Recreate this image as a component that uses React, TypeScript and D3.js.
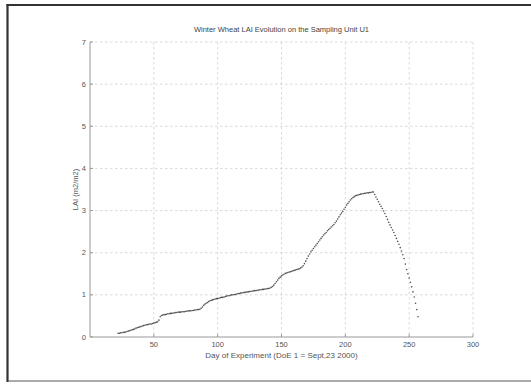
import * as d3 from 'd3';

const title = 'Winter Wheat LAI Evolution on the Sampling Unit U1';
const xLabel = 'Day of Experiment (DoE 1 = Sept,23 2000)';
const yLabel = 'LAI (m2/m2)';
const xTicks = [50, 100, 150, 200, 250, 300];
const yTicks = [0, 1, 2, 3, 4, 5, 6, 7];

// first sampled day, then one LAI reading per day
const firstDay = 22;
const lai = [
  0.09, 0.09, 0.10, 0.10, 0.11, 0.11, 0.12, 0.13, 0.14, 0.15,
  0.16, 0.17, 0.18, 0.19, 0.21, 0.22, 0.23, 0.24, 0.25, 0.26,
  0.27, 0.28, 0.29, 0.29, 0.30, 0.31, 0.31, 0.32, 0.33, 0.34,
  0.35, 0.36, 0.40, 0.48, 0.51, 0.52, 0.53, 0.53, 0.54, 0.55,
  0.55, 0.56, 0.56, 0.57, 0.57, 0.58, 0.58, 0.59, 0.59, 0.59,
  0.60, 0.60, 0.60, 0.61, 0.61, 0.62, 0.62, 0.62, 0.63, 0.63,
  0.64, 0.64, 0.65, 0.65, 0.66, 0.68, 0.71, 0.75, 0.78, 0.80,
  0.82, 0.84, 0.86, 0.87, 0.88, 0.89, 0.90, 0.91, 0.91, 0.92,
  0.93, 0.94, 0.94, 0.95, 0.96, 0.97, 0.98, 0.98, 0.99, 1.00,
  1.00, 1.01, 1.01, 1.02, 1.03, 1.03, 1.04, 1.05, 1.05, 1.06,
  1.06, 1.07, 1.07, 1.08, 1.08, 1.09, 1.09, 1.10, 1.10, 1.11,
  1.11, 1.12, 1.12, 1.13, 1.13, 1.14, 1.14, 1.15, 1.15, 1.16,
  1.18, 1.20, 1.23, 1.27, 1.31, 1.35, 1.39, 1.42, 1.45, 1.47,
  1.49, 1.51, 1.52, 1.53, 1.54, 1.55, 1.56, 1.57, 1.58, 1.59,
  1.60, 1.61, 1.62, 1.64, 1.66, 1.69, 1.74, 1.80, 1.86, 1.92,
  1.97, 2.02, 2.06, 2.10, 2.14, 2.18, 2.22, 2.26, 2.30, 2.34,
  2.38, 2.42, 2.45, 2.48, 2.52, 2.55, 2.58, 2.61, 2.64, 2.67,
  2.71, 2.75, 2.80, 2.85, 2.90, 2.94, 2.98, 3.03, 3.08, 3.13,
  3.17, 3.21, 3.25, 3.28, 3.31, 3.33, 3.35, 3.36, 3.37, 3.38,
  3.39, 3.40, 3.40, 3.41, 3.41, 3.42, 3.42, 3.43, 3.43, 3.44,
  3.44, 3.38, 3.32, 3.27, 3.21, 3.15, 3.10, 3.05, 2.99, 2.93,
  2.86, 2.79, 2.72, 2.66, 2.60, 2.54, 2.48, 2.41, 2.34, 2.27,
  2.20, 2.12, 2.04, 1.95, 1.86, 1.73, 1.60, 1.50, 1.40, 1.30,
  1.19, 1.07, 0.95, 0.80, 0.65, 0.48,
];

const W = 531, H = 385;
const font = '"Liberation Sans", Arial, sans-serif';

export default function App() {
  const x = d3.scaleLinear().domain([0, 300]).range([90, 473]);
  const y = d3.scaleLinear().domain([0, 7]).range([337, 42]);
  const pts = lai.map((v, i) => ({ day: firstDay + i, v }));
  const [x0, x1] = x.range();
  const [y0, y1] = y.range();
  const cx = (x0 + x1) / 2;

  return (
    <svg width={W} height={H} viewBox={`0 0 ${W} ${H}`}
      style={{ position: 'absolute', left: 0, top: 0, background: '#fff', fontFamily: font }}>
      {/* outer frame, right edge runs off the picture */}
      <rect x={7.5} y={5} width={560} height={376} fill="#fff" stroke="#aaa" strokeWidth={2} />
      <line x1={7.5} y1={4} x2={7.5} y2={382} stroke="#333" strokeWidth={2} />
      <line x1={6.5} y1={5} x2={540} y2={5} stroke="#333" strokeWidth={2} />

      {/* grid */}
      <g stroke="#d0d0d0" strokeWidth={0.8} strokeDasharray="2.5,2.5">
        {xTicks.map((t) => <line key={'gx' + t} x1={x(t)} x2={x(t)} y1={y1} y2={y0} />)}
        {yTicks.filter((t) => t > 0).map((t) => <line key={'gy' + t} x1={x0} x2={x1} y1={y(t)} y2={y(t)} />)}
      </g>

      {/* axes */}
      <line x1={x0} x2={x0} y1={y1} y2={y0} stroke="#999" strokeWidth={1} />
      <line x1={x0} x2={x1} y1={y0} y2={y0} stroke="#999" strokeWidth={1} />
      <g stroke="#999" strokeWidth={1}>
        {xTicks.map((t) => <line key={'tx' + t} x1={x(t)} x2={x(t)} y1={y0} y2={y0 - 3} />)}
        {yTicks.map((t) => <line key={'ty' + t} x1={x0} x2={x0 + 3} y1={y(t)} y2={y(t)} />)}
      </g>

      <g fill="#555" fontSize={7.5}>
        {xTicks.map((t) => (
          <text key={'lx' + t} x={x(t)} y={y0 + 10} textAnchor="middle">{t}</text>
        ))}
        {yTicks.map((t) => (
          <text key={'ly' + t} x={x0 - 4} y={y(t) + 2.5} textAnchor="end">{t}</text>
        ))}
      </g>

      <text x={cx} y={32} textAnchor="middle" fontSize={7.5} fill="#444">{title}</text>
      <text x={cx} y={358} textAnchor="middle" fontSize={8} fill="#555">{xLabel}</text>
      <text transform={`translate(78,${(y0 + y1) / 2}) rotate(-90)`} textAnchor="middle" fontSize={7.5} fill="#555">{yLabel}</text>

      {/* daily LAI samples */}
      <g fill="#505050">
        {pts.map((p) => <circle key={p.day} cx={x(p.day)} cy={y(p.v)} r={0.8} />)}
      </g>
    </svg>
  );
}
